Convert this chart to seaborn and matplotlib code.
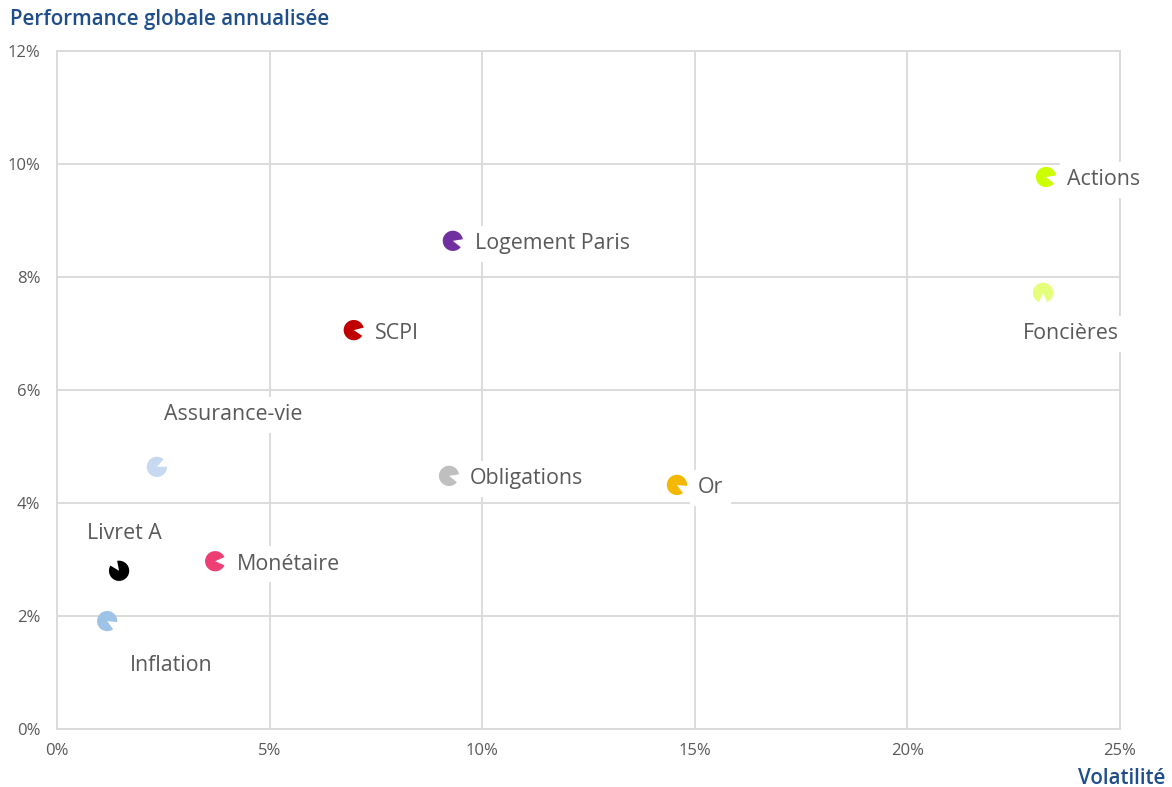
import numpy as np
import pandas as pd
import matplotlib
matplotlib.use("Agg")
import matplotlib.pyplot as plt
from matplotlib.path import Path
from matplotlib.ticker import FuncFormatter, MultipleLocator
import seaborn as sns

# Asset classes: annualised volatility (%) and annualised total return (%)
categories = ["Actions", "Foncières", "Logement Paris", "SCPI", "Assurance-vie",
              "Obligations", "Or", "Monétaire", "Livret A", "Inflation"]
volatility = [23.26, 23.19, 9.31, 6.98, 2.35, 9.22, 14.58, 3.72, 1.46, 1.18]
performance = [9.77, 7.72, 8.64, 7.06, 4.64, 4.48, 4.32, 2.97, 2.80, 1.91]

colors = ["#CCFF00", "#E4FF7A", "#7030A0", "#C00000", "#C6D9F1",
          "#BFBFBF", "#F5B800", "#EE3F74", "#000000", "#9DC3E6"]

# Direction of each marker's notch (degrees)
notch_dir = [-15, -90, -15, -10, 25, -15, -30, 0, 125, -30]
# Label placement relative to the point (pixels) and alignment
label_offsets = [(21, -3, "left"), (28, -41, "center"), (22, -3, "left"),
                 (21, -3, "left"), (76, 52, "center"), (21, -3, "left"),
                 (21, -3, "left"), (22, -3, "left"), (5, 37, "center"),
                 (64, -44, "center")]

df = pd.DataFrame({"cat": categories, "vol": volatility, "perf": performance})


def notched_disc(direction, opening=48):
    half = opening / 2
    return Path.wedge(direction + half, direction + 360 - half)


markers = {c: notched_disc(d) for c, d in zip(categories, notch_dir)}
palette = dict(zip(categories, colors))

sns.set_theme(style="white")
plt.rcParams["font.family"] = ["Open Sans", "DejaVu Sans"]

fig = plt.figure(figsize=(11.72, 7.87), dpi=100)
ax = fig.add_axes([57 / 1172, 58 / 787, (1120 - 57) / 1172, (729 - 51) / 787])

grid_c = "#D9D9D9"
ax.set_xlim(0, 25)
ax.set_ylim(0, 12)
ax.xaxis.set_major_locator(MultipleLocator(5))
ax.yaxis.set_major_locator(MultipleLocator(2))
ax.grid(True, color=grid_c, linewidth=1.3)
ax.set_axisbelow(True)
for s in ax.spines.values():
    s.set_color(grid_c)
    s.set_linewidth(1.3)

sns.scatterplot(data=df, x="vol", y="perf", hue="cat", style="cat",
                palette=palette, markers=markers, s=215, linewidth=0,
                legend=False, ax=ax, zorder=3)

for c, x, y, (dx, dy, ha) in zip(categories, volatility, performance, label_offsets):
    ax.annotate(c, xy=(x, y), xytext=(dx, dy), textcoords="offset pixels",
                ha=ha, va="center", fontsize=15.4, color="#595959", zorder=4,
                bbox=dict(boxstyle="square,pad=0.35", fc="white", ec="none"))

pct = FuncFormatter(lambda v, _: f"{v:.0f}%")
ax.xaxis.set_major_formatter(pct)
ax.yaxis.set_major_formatter(pct)
ax.tick_params(axis="both", length=0, labelsize=12, labelcolor="#595959")
ax.tick_params(axis="x", pad=10)
ax.tick_params(axis="y", pad=12)
ax.set_xlabel("")
ax.set_ylabel("")

title_c = "#1F4E8C"
fig.text(10 / 1172, 1 - 20 / 787, "Performance globale annualisée", ha="left",
         va="center", fontsize=14.8, color=title_c, fontweight="semibold")
fig.text(1165 / 1172, 1 - 778 / 787, "Volatilité", ha="right", va="center",
         fontsize=14.8, color=title_c, fontweight="semibold")

fig.savefig("out.png", dpi=100)
